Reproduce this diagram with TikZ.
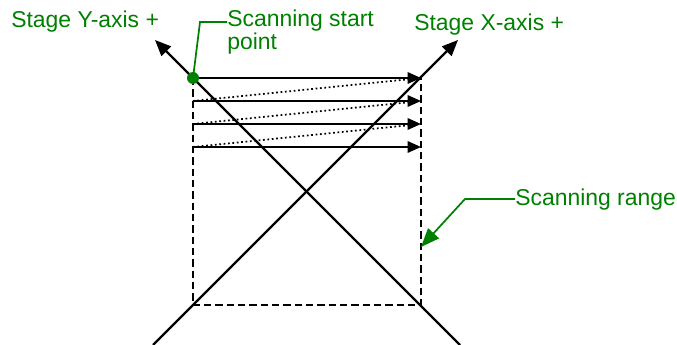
\documentclass[tikz,border=0pt]{standalone}
\usepackage{fontspec}
\setmainfont{Liberation Sans}
\usetikzlibrary{arrows.meta}
\definecolor{labelgreen}{RGB}{0,128,0}
\begin{document}
\begin{tikzpicture}[x=0.75pt,y=-0.75pt,line cap=butt,line join=miter,
	font=\fontsize{17.2}{17.5}\selectfont,
	axis/.style={line width=1.6pt,-{Triangle[length=12pt,width=10pt]}},
	scanline/.style={line width=1.6pt,-{Triangle[length=10pt,width=8.5pt]}},
	retrace/.style={line width=1.3pt,dotted},
	rangebox/.style={line width=1.6pt,dash pattern=on 5.5pt off 3pt},
	greentext/.style={text=labelgreen,inner sep=0pt,anchor=base west},
	leader/.style={labelgreen,line width=1.3pt}]
	\useasboundingbox (0,0) rectangle (677,345);
	\draw[rangebox] (193,78) rectangle (421,305);
	% stage axes
	\coordinate (ystart) at (460,345); \coordinate (yend) at (155,40);
	\coordinate (xstart) at (153,345); \coordinate (xend) at (458,40);
	\draw[axis] (ystart) -- (yend);
	\draw[axis] (xstart) -- (xend);
	% scanning passes
	\foreach \y in {78,101,124,147} \draw[scanline] (193,\y) -- (421,\y);
	\foreach \y/\n in {78/101,101/124,124/147} \draw[retrace] (193,\n) -- (421,\y);
	\node[circle,fill=labelgreen,inner sep=0pt,minimum size=9pt] (startdot) at (193,78) {};
	% labels
	\node[greentext] (ylabel) at (11,28) {Stage Y-axis +};
	\node[greentext] (xlabel) at (414,31) {Stage X-axis +};
	\node[greentext,align=left] (startlabel) at (227,50) {Scanning start\\point};
	\node[greentext] (rangelabel) at (515,205) {Scanning range};
	\coordinate (startbend) at (200,22);
	\draw[leader] (startdot.center) -- (startbend) -- (startbend -| startlabel.west);
	\coordinate (rangetip) at (421,247); \coordinate (rangebend) at (465,199);
	\draw[leader,{Triangle[length=14pt,width=11pt]}-] (rangetip) -- (rangebend) -- (rangebend -| rangelabel.west);
\end{tikzpicture}
\end{document}
